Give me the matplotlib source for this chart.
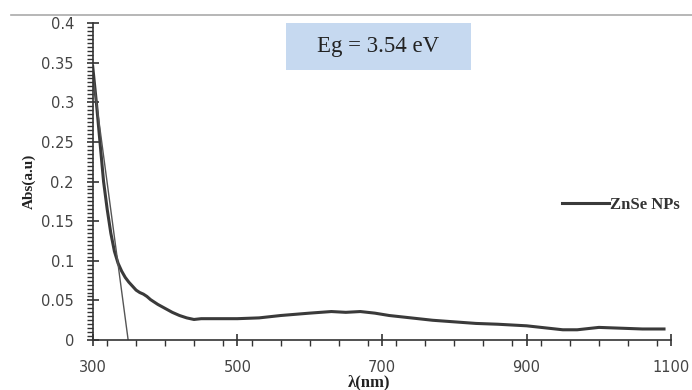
import matplotlib
matplotlib.use("Agg")
import matplotlib.pyplot as plt
from matplotlib.ticker import MultipleLocator
from matplotlib.lines import Line2D
from matplotlib.patches import Rectangle

# absorbance spectrum
wavelength = [300, 305, 310, 315, 320, 325, 330, 335, 340, 345, 350, 355, 360, 365, 370,
              375, 380, 390, 400, 410, 420, 430, 440, 450, 470, 500, 530, 560, 600, 630,
              650, 670, 690, 710, 740, 770, 800, 830, 860, 900, 930, 950, 970, 1000, 1030,
              1060, 1090]
absorbance = [0.345, 0.3, 0.25, 0.2, 0.165, 0.135, 0.112, 0.097, 0.087, 0.079, 0.073, 0.068,
              0.063, 0.06, 0.058, 0.055, 0.051, 0.045, 0.04, 0.035, 0.031, 0.028, 0.026,
              0.027, 0.027, 0.027, 0.028, 0.031, 0.034, 0.036, 0.035, 0.036, 0.034, 0.031,
              0.028, 0.025, 0.023, 0.021, 0.02, 0.018, 0.015, 0.013, 0.013, 0.016, 0.015,
              0.014, 0.014]
# tangent used for the band gap estimate
tangent_x = [300, 349]
tangent_y = [0.335, 0.0]

x_ticks = [300, 500, 700, 900, 1100]
y_ticks = [0, 0.05, 0.1, 0.15, 0.2, 0.25, 0.3, 0.35, 0.4]
y_labels = ["0", "0.05", "0.1", "0.15", "0.2", "0.25", "0.3", "0.35", "0.4"]

fig = plt.figure(figsize=(6.92, 3.9), dpi=100)
ax = fig.add_axes([0.134, 0.128, 0.836, 0.813])

ax.plot(wavelength, absorbance, color="#3a3a3a", lw=2.2)
ax.plot(tangent_x, tangent_y, color="#555555", lw=1.0)

ax.set_xlim(300, 1100)
ax.set_ylim(0, 0.4)
ax.set_xticks(x_ticks)
ax.set_yticks(y_ticks)
ax.set_yticklabels(y_labels)
ax.xaxis.set_minor_locator(MultipleLocator(40))
ax.yaxis.set_minor_locator(MultipleLocator(0.005))

for s in ["top", "right"]:
    ax.spines[s].set_visible(False)
for s in ["left", "bottom"]:
    ax.spines[s].set_color("#333333")
    ax.spines[s].set_linewidth(1.2)

ax.tick_params(which="major", direction="inout", length=9, width=1.2, color="#333333",
               labelsize=10.5, labelcolor="#444444")
ax.tick_params(which="minor", direction="out", length=4, width=1.0, color="#333333")
ax.tick_params(axis="x", pad=10)
ax.tick_params(axis="y", pad=9)

ax.set_ylabel("Abs(a.u)", family="Liberation Serif", fontweight="bold", fontsize=11,
              color="#222222", labelpad=4)
fig.text(0.533, 0.02, "λ(nm)", family="Liberation Serif", fontweight="bold", fontsize=12,
         color="#222222", ha="center", va="center")

# band gap box
ax.add_patch(Rectangle((0.334, 0.852), 0.32, 0.148, transform=ax.transAxes,
                       fc="#c6d9f0", ec="none", clip_on=False, zorder=3))
ax.text(0.494, 0.926, "Eg = 3.54 eV", transform=ax.transAxes, family="Liberation Serif",
        fontsize=16.5, color="#222222", ha="center", va="center", zorder=4)

# legend
leg = ax.legend([Line2D([0], [0], color="#3a3a3a", lw=2.2)], ["ZnSe NPs"],
                loc="center left", bbox_to_anchor=(0.80, 0.426), frameon=False,
                handlelength=2.8, handletextpad=0.05, borderaxespad=0,
                prop={"family": "Liberation Serif", "weight": "bold", "size": 12})
for t in leg.get_texts():
    t.set_color("#333333")

# thin grey line across the top
fig.add_artist(Line2D([0.016, 1.0], [0.962, 0.962], transform=fig.transFigure,
                      color="#aaaaaa", lw=1.2))

fig.savefig("out.png", dpi=100)
